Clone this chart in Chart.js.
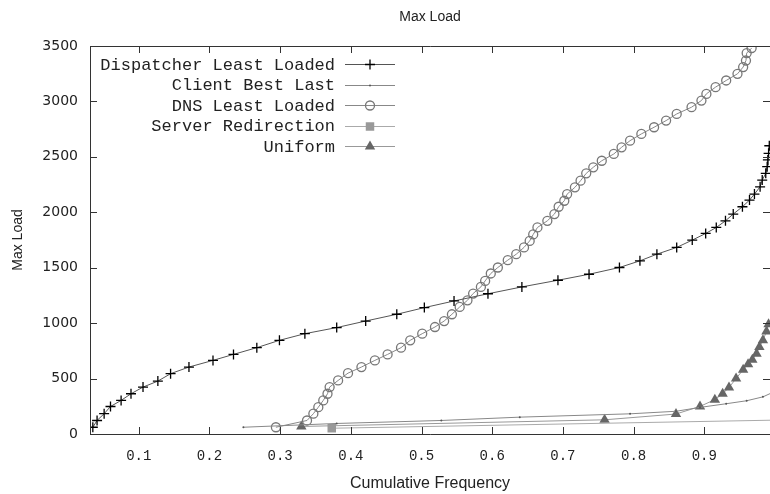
<!DOCTYPE html>
<html>
<head>
<meta charset="utf-8">
<title>Max Load</title>
<script src="https://cdn.jsdelivr.net/npm/chart.js@4/dist/chart.umd.min.js"></script>
<style>
  html, body { margin: 0; padding: 0; background: #fff; }
  #wrap { width: 770px; height: 494px; position: relative; }
</style>
</head>
<body>
<div id="wrap"><canvas id="chart" width="770" height="494"></canvas></div>
<script>
// Max Load vs cumulative frequency

const xTickValues = [0.1, 0.2, 0.3, 0.4, 0.5, 0.6, 0.7, 0.8, 0.9];
const yTickValues = [0, 500, 1000, 1500, 2000, 2500, 3000, 3500];

const dispatcherX = [0.035, 0.041, 0.051, 0.060, 0.075, 0.089, 0.106, 0.127, 0.145, 0.171, 0.205, 0.234, 0.267, 0.299,
  0.335, 0.380, 0.421, 0.465, 0.504, 0.546, 0.594, 0.642, 0.693, 0.737, 0.780, 0.809, 0.833, 0.861, 0.883, 0.902,
  0.917, 0.930, 0.941, 0.954, 0.964, 0.971, 0.979, 0.982, 0.987, 0.989, 0.990, 0.991, 0.992];
const dispatcherY = [61, 122, 183, 248, 303, 363, 423, 477, 544, 604, 664, 718, 779, 845,
  905, 960, 1019, 1080, 1140, 1200, 1265, 1327, 1387, 1441, 1502, 1562, 1622, 1683, 1749, 1809,
  1863, 1923, 1984, 2050, 2110, 2164, 2230, 2291, 2351, 2411, 2472, 2532, 2600];

const clientX = [0.248, 0.380, 0.528, 0.639, 0.795, 0.860, 0.894, 0.931, 0.960, 0.983, 0.995];
const clientY = [61, 95, 122, 152, 182, 205, 240, 273, 300, 335, 370];

const dnsX = [0.294, 0.338, 0.347, 0.354, 0.361, 0.367, 0.370, 0.382, 0.396, 0.415, 0.434, 0.452, 0.471, 0.484,
  0.501, 0.519, 0.532, 0.543, 0.554, 0.565, 0.573, 0.584, 0.590, 0.598, 0.608, 0.622, 0.634, 0.645, 0.653,
  0.658, 0.664, 0.678, 0.688, 0.694, 0.702, 0.706, 0.717, 0.725, 0.733, 0.743, 0.755, 0.772, 0.783, 0.795,
  0.811, 0.829, 0.846, 0.861, 0.882, 0.896, 0.903, 0.916, 0.931, 0.947, 0.955, 0.959, 0.960, 0.967];
const dnsY = [61, 122, 183, 242, 303, 363, 423, 483, 549, 604, 664, 718, 779, 845,
  905, 965, 1019, 1080, 1146, 1206, 1267, 1327, 1381, 1448, 1502, 1568, 1622, 1683, 1742,
  1800, 1863, 1923, 1984, 2050, 2104, 2164, 2225, 2285, 2351, 2406, 2465, 2526, 2586, 2646,
  2707, 2767, 2827, 2887, 2948, 3008, 3068, 3129, 3189, 3249, 3310, 3369, 3436, 3481];

const redirectX = [0.373, 1.0];
const redirectY = [52, 125];

const uniformX = [0.330, 0.759, 0.860, 0.894, 0.915, 0.926, 0.935, 0.945, 0.955, 0.962, 0.968, 0.974, 0.978, 0.983, 0.988, 0.991];
const uniformY = [68, 128, 180, 249, 310, 363, 420, 500, 580, 630, 670, 725, 784, 845, 925, 990];

function toPoints(xs, ys) {
  return xs.map((x, i) => ({ x: x, y: ys[i] }));
}

const monoFont = '"Liberation Mono", "DejaVu Sans Mono", monospace';
const sansFont = '"Liberation Sans", Arial, sans-serif';
const tickFont = '"DejaVu Sans", "Liberation Sans", sans-serif';

// frame, inward ticks, title and legend in gnuplot style
const framePlugin = {
  id: 'frame',
  afterDraw(chart) {
    const c = chart.ctx;
    const area = chart.chartArea;
    const xs = chart.scales.x;
    const ys = chart.scales.y;
    c.save();
    c.strokeStyle = '#333';
    c.lineWidth = 1;
    c.beginPath();
    c.moveTo(area.right, area.top + 0.5);
    c.lineTo(area.left + 0.5, area.top + 0.5);
    c.lineTo(area.left + 0.5, area.bottom + 0.5);
    c.lineTo(area.right, area.bottom + 0.5);
    xTickValues.forEach(v => {
      const px = Math.round(xs.getPixelForValue(v)) + 0.5;
      c.moveTo(px, area.bottom);
      c.lineTo(px, area.bottom - 7);
      c.moveTo(px, area.top);
      c.lineTo(px, area.top + 7);
    });
    yTickValues.forEach(v => {
      const py = Math.round(ys.getPixelForValue(v)) + 0.5;
      c.moveTo(area.left, py);
      c.lineTo(area.left + 7, py);
      c.moveTo(area.right, py);
      c.lineTo(area.right - 7, py);
    });
    c.stroke();

    // title
    c.fillStyle = '#222';
    c.font = '14px ' + sansFont;
    c.textAlign = 'center';
    c.textBaseline = 'middle';
    c.fillText('Max Load', (area.left + area.right) / 2, 17);

    // legend
    const textRight = 335, lineL = 345, lineR = 395, markX = 370;
    c.font = '17px ' + monoFont;
    c.textAlign = 'right';
    chart.data.datasets.forEach((ds, i) => {
      const y = 64 + i * 20.5;
      c.fillStyle = '#222';
      c.fillText(ds.label, textRight, y + 1);
      c.strokeStyle = ds.borderColor;
      c.lineWidth = 1;
      c.beginPath();
      c.moveTo(lineL, Math.round(y) + 0.5);
      c.lineTo(lineR, Math.round(y) + 0.5);
      c.stroke();
      c.fillStyle = ds.pointBackgroundColor;
      c.strokeStyle = ds.pointBorderColor;
      c.lineWidth = ds.pointBorderWidth;
      Chart.helpers.drawPoint(c, {
        pointStyle: ds.pointStyle,
        radius: ds.pointRadius,
        rotation: 0,
        borderWidth: ds.pointBorderWidth
      }, markX, Math.round(y) + 0.5);
    });
    c.restore();
  }
};

const chartCtx = document.getElementById('chart').getContext('2d');
const loadChart = new Chart(chartCtx, {
  type: 'scatter',
  data: {
    datasets: [{
      label: 'Dispatcher Least Loaded',
      data: toPoints(dispatcherX, dispatcherY),
      showLine: true,
      clip: 0,
      borderColor: '#555',
      borderWidth: 1,
      pointStyle: 'cross',
      pointRadius: 5,
      pointBorderColor: '#000',
      pointBackgroundColor: '#000',
      pointBorderWidth: 1.3
    }, {
      label: 'Client Best Last',
      data: toPoints(clientX, clientY),
      showLine: true,
      clip: 0,
      borderColor: '#888',
      borderWidth: 1,
      pointStyle: 'circle',
      pointRadius: 1,
      pointBorderColor: '#555',
      pointBackgroundColor: '#555',
      pointBorderWidth: 0
    }, {
      label: 'DNS Least Loaded',
      data: toPoints(dnsX, dnsY),
      showLine: true,
      clip: 0,
      borderColor: '#888',
      borderWidth: 1,
      pointStyle: 'circle',
      pointRadius: 4.5,
      pointBorderColor: '#777',
      pointBackgroundColor: 'rgba(255,255,255,0)',
      pointBorderWidth: 1.3
    }, {
      label: 'Server Redirection',
      data: toPoints(redirectX, redirectY),
      showLine: true,
      clip: 0,
      borderColor: '#aaa',
      borderWidth: 1,
      pointStyle: 'rect',
      pointRadius: 6,
      pointBorderColor: '#999',
      pointBackgroundColor: '#999',
      pointBorderWidth: 0
    }, {
      label: 'Uniform',
      data: toPoints(uniformX, uniformY),
      showLine: true,
      clip: 0,
      borderColor: '#999',
      borderWidth: 1,
      pointStyle: 'triangle',
      pointRadius: 6,
      pointBorderColor: '#666',
      pointBackgroundColor: '#666',
      pointBorderWidth: 0
    }]
  },
  options: {
    responsive: false,
    animation: false,
    devicePixelRatio: 1,
    layout: { autoPadding: false, padding: { top: 46, right: 0, bottom: 0, left: 0 } },
    plugins: {
      legend: { display: false },
      title: { display: false },
      tooltip: { enabled: false }
    },
    elements: { line: { tension: 0 } },
    scales: {
      x: {
        type: 'linear',
        min: 0.031,
        max: 0.993,
        afterBuildTicks: scale => { scale.ticks = xTickValues.map(v => ({ value: v })); },
        afterFit: scale => { scale.height = 60; },
        grid: { display: false, drawTicks: false },
        border: { display: false },
        ticks: {
          autoSkip: false,
          maxRotation: 0,
          padding: 14,
          color: '#222',
          font: { family: monoFont, size: 14 },
          callback: v => Number(v).toFixed(1)
        },
        title: {
          display: true,
          text: 'Cumulative Frequency',
          color: '#222',
          font: { family: sansFont, size: 16 },
          padding: { top: 0, bottom: 1 }
        }
      },
      y: {
        type: 'linear',
        min: 0,
        max: 3500,
        afterBuildTicks: scale => { scale.ticks = yTickValues.map(v => ({ value: v })); },
        afterFit: scale => { scale.width = 90; },
        grid: { display: false, drawTicks: false },
        border: { display: false },
        ticks: {
          autoSkip: false,
          padding: 12,
          color: '#222',
          font: { family: tickFont, size: 14 },
          callback: v => String(v)
        },
        title: {
          display: true,
          text: 'Max Load',
          color: '#222',
          font: { family: sansFont, size: 14 },
          padding: { top: 10, bottom: 0 }
        }
      }
    }
  },
  plugins: [framePlugin]
});
</script>
</body>
</html>
